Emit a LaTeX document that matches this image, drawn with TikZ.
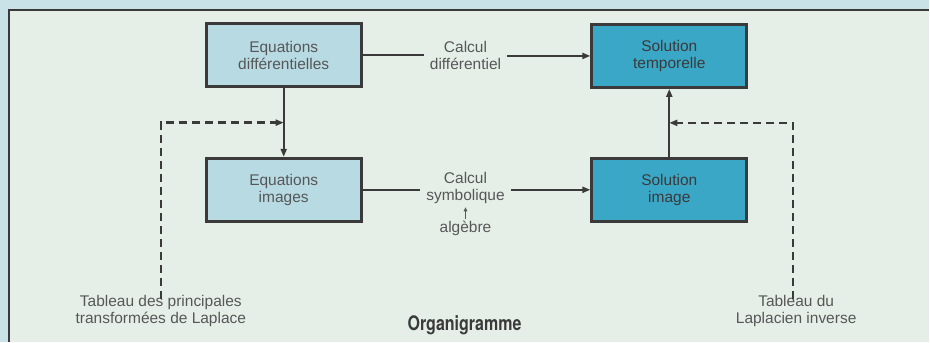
\documentclass[tikz,border=0pt]{standalone}
\usepackage{fontspec}
\setmainfont{Liberation Sans}
\newfontfamily\titlefont[FakeStretch=0.8]{TeX Gyre Heros}
\usetikzlibrary{calc, positioning, arrows.meta}

\definecolor{outerbg}{HTML}{C9E2E8}
\definecolor{innerbg}{HTML}{E5EFE7}
\definecolor{palebox}{HTML}{B7DAE3}
\definecolor{deepbox}{HTML}{3BA7C7}
\definecolor{inkgray}{HTML}{575757}
\definecolor{linegray}{HTML}{3A3A3A}

\tikzset{
  box/.style={draw=linegray, line width=3pt, fill=palebox, minimum width=155pt,
    minimum height=63pt, align=center, text=inkgray, font=\fontsize{15.5}{17}\selectfont},
  hotbox/.style={box, fill=deepbox, text=linegray},
  lbl/.style={align=center, text=inkgray, inner sep=6pt, font=\fontsize{15.5}{17}\selectfont},
  flow/.style={draw=linegray, line width=2pt, -{Triangle[length=8pt,width=6pt]}},
  plainflow/.style={draw=linegray, line width=2pt},
  dashflow/.style={draw=linegray, line width=2.5pt, dash pattern=on 8pt off 5pt,
    -{Triangle[length=8pt,width=6pt]}}
}

\begin{document}
\begin{tikzpicture}[x=1pt, y=-1pt]
    % --- fond et cadre ---
    \fill[outerbg] (0,0) rectangle (930,342);
    \fill[innerbg] (9,10) rectangle (930,342);
    \draw[linegray, line width=2pt] (9,342) -- (9,10) -- (930,10);
    \useasboundingbox (0,0) rectangle (930,342);

    % --- les quatre blocs ---
    \node[box] (diffeq) at (284,55.5) {Equations\\différentielles};
    \node[hotbox] (soltemp) at (670,56) {Solution\\temporelle};
    \node[box] (eqimg) at (284,190) {Equations\\images};
    \node[hotbox] (solimg) at (670,190) {Solution\\image};

    % --- textes des transformations ---
    \node[lbl] (calcdiff) at (466,56) {Calcul\\différentiel};
    \node[lbl] (calcsym) at (466,188) {Calcul\\symbolique};
    \node[lbl, inner sep=2pt] (algebre) at (466,229) {algèbre};
    \node[lbl, inner sep=0pt] (tabl) at (161,311) {Tableau des principales\\transformées de Laplace};
    \node[lbl, inner sep=0pt] (tabr) at (797,311) {Tableau du\\Laplacien inverse};
    \node[text=linegray, font=\titlefont\bfseries\fontsize{20}{21}\selectfont] (titre) at (465,326) {Organigramme};

    % --- points de rencontre ---
    \coordinate (lmid) at ($(diffeq.south)!0.5!(eqimg.north)$);
    \coordinate (rmid) at ($(solimg.north)!0.5!(soltemp.south)$);

    % --- liaisons ---
    \draw[plainflow] (diffeq.east) -- (diffeq.east -| calcdiff.west);
    \draw[flow] (soltemp.west -| calcdiff.east) -- (soltemp.west);
    \draw[plainflow] (eqimg.east) -- (eqimg.east -| calcsym.west);
    \draw[flow] (solimg.west -| calcsym.east) -- (solimg.west);
    \draw[draw=inkgray, line width=1pt, -{Triangle[length=4pt,width=3.5pt]}]
        (algebre.north) -- ++(0,-12);
    \draw[flow] (diffeq.south) -- (eqimg.north);
    \draw[flow] (solimg.north) -- (soltemp.south);
    \draw[dashflow] ([yshift=-4pt]tabl.north) |- (lmid);
    \draw[dashflow] ([xshift=-3pt,yshift=-4pt]tabr.north) |- (rmid);
\end{tikzpicture}
\end{document}
